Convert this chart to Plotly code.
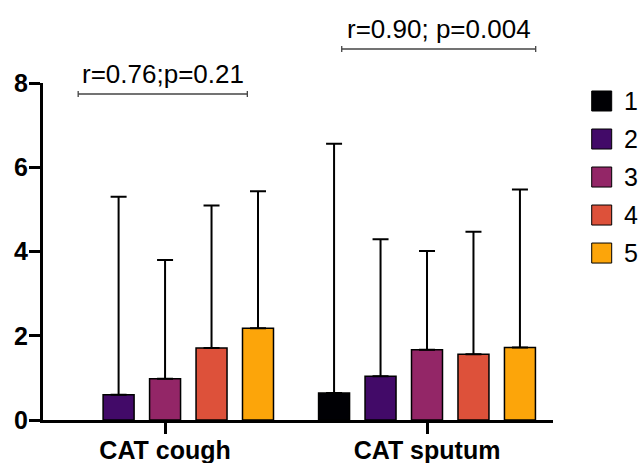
import plotly.graph_objects as go

categories = ["CAT cough", "CAT sputum"]
groups = ["1", "2", "3", "4", "5"]
colors = ["#000004", "#420a68", "#932667", "#dd513a", "#fca50a"]

cough_mean = [None, 0.60, 0.98, 1.71, 2.18]
cough_sd = [None, 4.70, 2.82, 3.38, 3.25]
sputum_mean = [0.64, 1.04, 1.67, 1.56, 1.72]
sputum_sd = [5.92, 3.25, 2.34, 2.91, 3.75]

stat_labels = ["r=0.76;p=0.21", "r=0.90; p=0.004"]

FONT = "Arial, Liberation Sans, sans-serif"

fig = go.Figure()
for i, g in enumerate(groups):
    fig.add_trace(go.Bar(
        x=categories,
        y=[cough_mean[i], sputum_mean[i]],
        name=g,
        marker=dict(color=colors[i], line=dict(color="black", width=1.5)),
        error_y=dict(type="data", symmetric=False,
                     array=[cough_sd[i], sputum_sd[i]],
                     arrayminus=[0, 0],
                     color="black", thickness=2, width=8),
        showlegend=False,
    ))

shapes = []
annotations = []
# bracket lines with stats
brackets = [(-0.3317, 0.3141, 0.9674, 1.0267), (0.6744, 1.4149, 1.1009, 1.1617)]
for (x0, x1, yl, yt), lab in zip(brackets, stat_labels):
    shapes.append(dict(type="line", xref="x", yref="paper", x0=x0, x1=x1, y0=yl, y1=yl,
                       line=dict(color="#444", width=1.3)))
    for xx in (x0, x1):
        shapes.append(dict(type="line", xref="x", yref="paper", x0=xx, x1=xx,
                           y0=yl - 0.009, y1=yl + 0.009, line=dict(color="#444", width=1.3)))
    annotations.append(dict(text=lab, xref="x", yref="paper", x=(x0 + x1) / 2, y=yt,
                            xanchor="center", yanchor="middle", showarrow=False,
                            font=dict(family=FONT, size=26, color="black")))

# manual legend
for i, g in enumerate(groups):
    yc = 0.9466 - i * 0.1128
    shapes.append(dict(type="rect", xref="paper", yref="paper", x0=1.0759, x1=1.1151,
                       y0=yc - 0.0297, y1=yc + 0.0297, fillcolor=colors[i],
                       line=dict(color="black", width=1)))
    annotations.append(dict(text=g, xref="paper", yref="paper", x=1.135, y=yc,
                            xanchor="left", yanchor="middle", showarrow=False,
                            font=dict(family=FONT, size=25, color="black")))

fig.update_layout(
    width=640, height=463,
    margin=dict(l=43, r=87, t=83, b=43),
    paper_bgcolor="white", plot_bgcolor="white",
    barmode="group", bargap=0.113, bargroupgap=0.333,
    shapes=shapes, annotations=annotations,
    font=dict(family=FONT, color="black"),
)
fig.update_xaxes(range=[-0.466, 1.481], showline=True, linecolor="black", linewidth=3,
                 ticks="outside", ticklen=11, tickwidth=2.5, tickcolor="black",
                 tickfont=dict(family=FONT, size=25, weight="bold"), showgrid=False,
                 automargin=False, ticklabelstandoff=-5)
fig.update_yaxes(range=[0, 8], dtick=2, showline=True, linecolor="black", linewidth=3,
                 ticks="outside", ticklen=11, tickwidth=2.5, tickcolor="black",
                 tickfont=dict(family=FONT, size=25, weight="bold"), showgrid=False,
                 zeroline=False, automargin=False, ticklabelstandoff=-4)

fig.write_html("out.html")
